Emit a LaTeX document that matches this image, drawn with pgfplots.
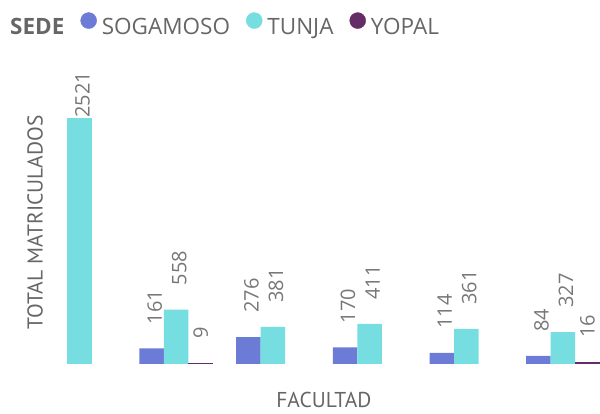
\documentclass[border=0pt]{standalone}
\usepackage{pgfplots}
\pgfplotsset{compat=1.18}
\usepackage{fontspec}
\setmainfont{Open Sans}
\newfontfamily\titlefont{PT Sans}

\definecolor{sog}{HTML}{6B7BD6}
\definecolor{tun}{HTML}{76DEE0}
\definecolor{yop}{HTML}{652D67}
\definecolor{txt}{HTML}{666666}
\definecolor{lbl}{HTML}{777777}

% rotated value labels above the bars: #1 = sideways offset, #2 = gap above the bar
\pgfplotsset{lab/.style 2 args={nodes near coords,
  every node near coord/.append style={font=\fontsize{20}{22}\selectfont, text=lbl,
    inner sep=0pt, xshift=#1, yshift=#2, rotate=90, anchor=west}}}

\begin{document}
\begin{tikzpicture}
\useasboundingbox (0,0) rectangle (600pt,414pt);
\begin{axis}[
    at={(50pt,50pt)}, anchor=south west,
    scale only axis, width=550pt, height=294pt,
    xmin=-0.305, xmax=5.383, ymin=0, ymax=3012,
    axis line style={draw=none},
    xtick=\empty, ytick=\empty,
    ybar=0pt, bar width=24.5pt,
    clip=false,
    /pgf/number format/.cd, 1000 sep={}, assume math mode=true, /pgfplots/.cd,
    xlabel={FACULTAD}, ylabel={TOTAL MATRICULADOS},
    label style={font=\titlefont\fontsize{21.5}{24}\selectfont, text=txt},
    xlabel style={at={(axis description cs:0.498,-0.122)}, anchor=center},
    ylabel style={at={(axis description cs:-0.027,0.482)}, anchor=center},
    legend columns=-1,
    legend style={at={(axis description cs:-0.0818,1.155)}, anchor=west,
      draw=none, fill=none, inner sep=0pt,
      font=\fontsize{22.5}{26}\selectfont, text=txt, nodes={inner sep=0pt},
      /tikz/every odd column/.append style={column sep=5pt},
      /tikz/every even column/.append style={column sep=16pt}},
]
\addlegendimage{empty legend}
\addlegendentry{\textbf{SEDE}}
\addlegendimage{legend image code/.code={\fill[sog] (0pt,7pt) circle (8pt);}}
\addlegendentry{SOGAMOSO}
\addlegendimage{legend image code/.code={\fill[tun] (0pt,7pt) circle (8pt);}}
\addlegendentry{TUNJA}
\addlegendimage{legend image code/.code={\fill[yop] (0pt,7pt) circle (8pt);}}
\addlegendentry{YOPAL}

\addplot[fill=sog, draw=none, bar shift=-24.5pt, lab={3pt}{24pt}, forget plot]
  coordinates {(1,161) (2,276) (3,170) (4,114) (5,84)};
\addplot[fill=tun, draw=none, bar shift=0pt, lab={3pt}{24pt}, forget plot]
  coordinates {(1,558) (2,381) (3,411) (4,361) (5,327)};
\addplot[fill=tun, draw=none, bar shift=0pt, lab={3pt}{0pt}, forget plot]
  coordinates {(0,2521)};
\addplot[fill=yop, draw=yop, line width=1pt, bar shift=24.5pt, lab={0pt}{24pt}, forget plot]
  coordinates {(1,9) (5,16)};
\end{axis}
\end{tikzpicture}
\end{document}
